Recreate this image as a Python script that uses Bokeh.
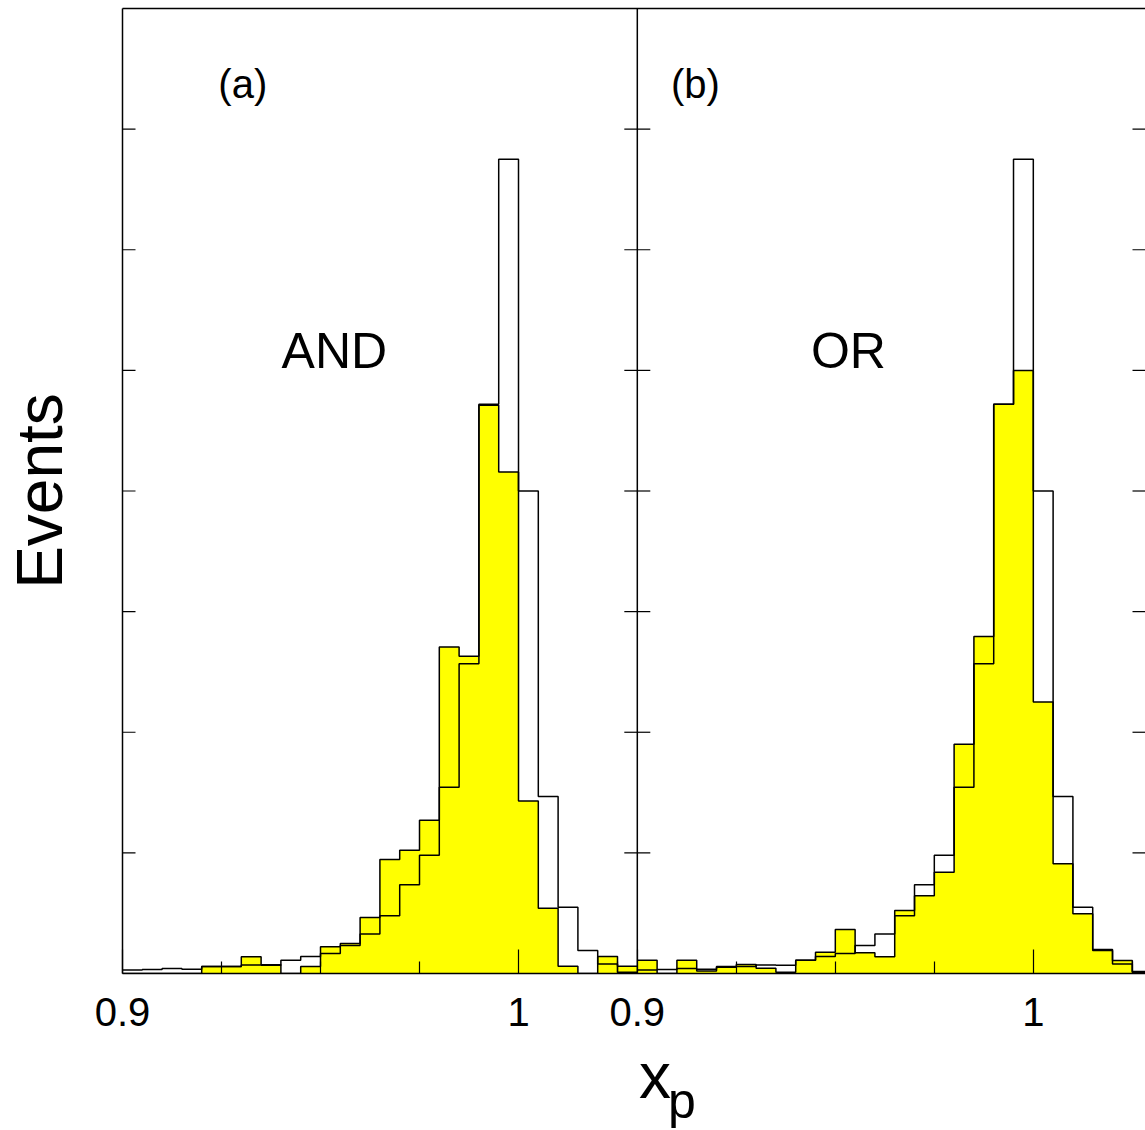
from bokeh.plotting import figure
from bokeh.layouts import column
from bokeh.models import Range1d, LinearAxis, FixedTicker, Label, Span, Div
from bokeh.embed import file_html
from bokeh.resources import INLINE
import numpy as np

# histogram binning (x_p), both panels use the same bins
bin_width = 0.005
x_start = 0.9
n_bins = 26

# all events (open histogram), same in both panels
all_events = [0.028, 0.033, 0.042, 0.036, 0.058, 0.058, 0.07, 0.068, 0.11, 0.14,
              0.165, 0.232, 0.328, 0.478, 0.735, 0.98, 1.545, 2.568, 4.72, 6.75,
              4.0, 1.468, 0.55, 0.19, 0.078, 0.01]

# (a) AND selection (yellow)
and_events = [0, 0, 0, 0, 0.058, 0.058, 0.138, 0.072, 0, 0.058,
              0.221, 0.249, 0.464, 0.945, 1.022, 1.27, 2.706, 2.63, 4.71, 4.157,
              1.43, 0.54, 0.06, 0, 0.14, 0.06]

# (b) OR selection (yellow)
or_events = [0.11, 0, 0.11, 0.02, 0.052, 0.075, 0.044, 0.011, 0.11, 0.177,
             0.365, 0.171, 0.138, 0.522, 0.644, 0.84, 1.90, 2.794, 4.72, 5.0,
             2.25, 0.909, 0.495, 0.2, 0.108, 0.017]

x_major = [0.9, 1.0]
x_minor = [0.925, 0.95, 0.975, 1.025]
y_ticks = [1, 2, 3, 4, 5, 6, 7]

panel_span = 0.13          # width of panel (a) in x_p
x_end = 1.15833            # right end of the visible frame
px_per_unit = 3960         # frame scale, used for tick lengths only
FONT = "Liberation Sans"

edges = np.round(x_start + bin_width * np.arange(n_bins + 1), 4)
xs = list(edges)


def steps(vals):
    return list(vals) + [vals[-1]]


p = figure(width=1145, height=1042,
           x_range=Range1d(x_start, x_end), y_range=Range1d(0, 8),
           x_axis_type=None, y_axis_type=None,
           toolbar_location=None, tools="", output_backend="svg",
           min_border_left=122, min_border_right=0,
           min_border_top=8, min_border_bottom=69,
           outline_line_color=None)
p.extra_x_ranges = {"b": Range1d(x_start - panel_span, x_end - panel_span)}
p.xgrid.visible = False
p.ygrid.visible = False

# ===== histograms =====
for sel, rng in [(and_events, "default"), (or_events, "b")]:
    p.varea_step(x=xs, y1=[0] * len(xs), y2=steps(sel), step_mode="after",
                 fill_color="#ffff00", x_range_name=rng)
    p.step(x=xs, y=steps(sel), mode="after", line_color="black",
           line_width=1.5, x_range_name=rng)
    p.step(x=xs, y=steps(all_events), mode="after", line_color="black",
           line_width=1.5, x_range_name=rng)

# panel boundary
boundary = x_start + panel_span
p.add_layout(Span(location=boundary, dimension="height",
                  line_color="black", line_width=1.5))

# inward y ticks: left edge, both sides of the boundary, right edge
tick_len = 13 / px_per_unit
tx0 = [x_start, boundary - tick_len, x_end - tick_len]
tx1 = [x_start + tick_len, boundary + tick_len, x_end]
seg_x0 = [a for a in tx0 for _ in y_ticks]
seg_x1 = [b for b in tx1 for _ in y_ticks]
seg_y = y_ticks * len(tx0)
p.segment(x0=seg_x0, x1=seg_x1, y0=seg_y, y1=seg_y,
          line_color="black", line_width=1.2)

# ===== axes =====
major_all = x_major + [t + panel_span for t in x_major]
minor_all = x_minor + [t + panel_span for t in x_minor]
labels = {t: "%g" % t for t in x_major}
labels.update({t + panel_span: "%g" % t for t in x_major})

xaxis = LinearAxis(ticker=FixedTicker(ticks=major_all, minor_ticks=minor_all),
                   major_label_overrides=labels,
                   major_tick_in=24, major_tick_out=0,
                   minor_tick_in=12, minor_tick_out=0,
                   axis_line_width=1.5, major_tick_line_width=1.2,
                   minor_tick_line_width=1.2,
                   major_label_text_font=FONT, major_label_text_font_size="40px",
                   major_label_text_color="black",
                   major_label_standoff=24)
p.add_layout(xaxis, "below")

yaxis = LinearAxis(ticker=FixedTicker(ticks=[], minor_ticks=[]),
                   major_tick_in=0, major_tick_out=0,
                   minor_tick_in=0, minor_tick_out=0,
                   axis_line_width=1.5, major_label_standoff=0,
                   axis_label="Events", axis_label_text_font=FONT,
                   axis_label_text_font_size="64px",
                   axis_label_text_font_style="normal",
                   axis_label_text_color="black",
                   axis_label_standoff=47)
p.add_layout(yaxis, "left")

top_axis = LinearAxis(ticker=FixedTicker(ticks=[], minor_ticks=[]),
                      major_tick_in=0, major_tick_out=0,
                      minor_tick_in=0, minor_tick_out=0,
                      axis_line_width=1.5, major_label_standoff=0)
p.add_layout(top_axis, "above")

# ===== texts =====
p.add_layout(Label(x=0.9242, y=7.19, text="(a)", text_font=FONT,
                   text_font_size="40px", text_align="left", text_color="black"))
p.add_layout(Label(x=0.9085, y=7.19, text="(b)", text_font=FONT,
                   text_font_size="40px", text_align="left", text_color="black",
                   x_range_name="b"))
p.add_layout(Label(x=0.9535, y=4.93, text="AND", text_font=FONT,
                   text_font_size="50px", text_align="center", text_color="black"))
p.add_layout(Label(x=0.9533, y=4.93, text="OR", text_font=FONT,
                   text_font_size="50px", text_align="center", text_color="black",
                   x_range_name="b"))

# x_p axis title under both panels
xtitle = Div(text=(
    '<div style="font-family:\'Liberation Sans\';font-size:64px;line-height:64px;'
    'color:black;margin-left:634px;margin-top:-3px;white-space:nowrap">x'
    '<span style="font-size:50px;position:relative;top:20px;margin-left:-3px">p</span>'
    '</div>'), width=1145, height=88)

layout = column(p, xtitle)

open("out.html", "w").write(file_html(layout, INLINE))
